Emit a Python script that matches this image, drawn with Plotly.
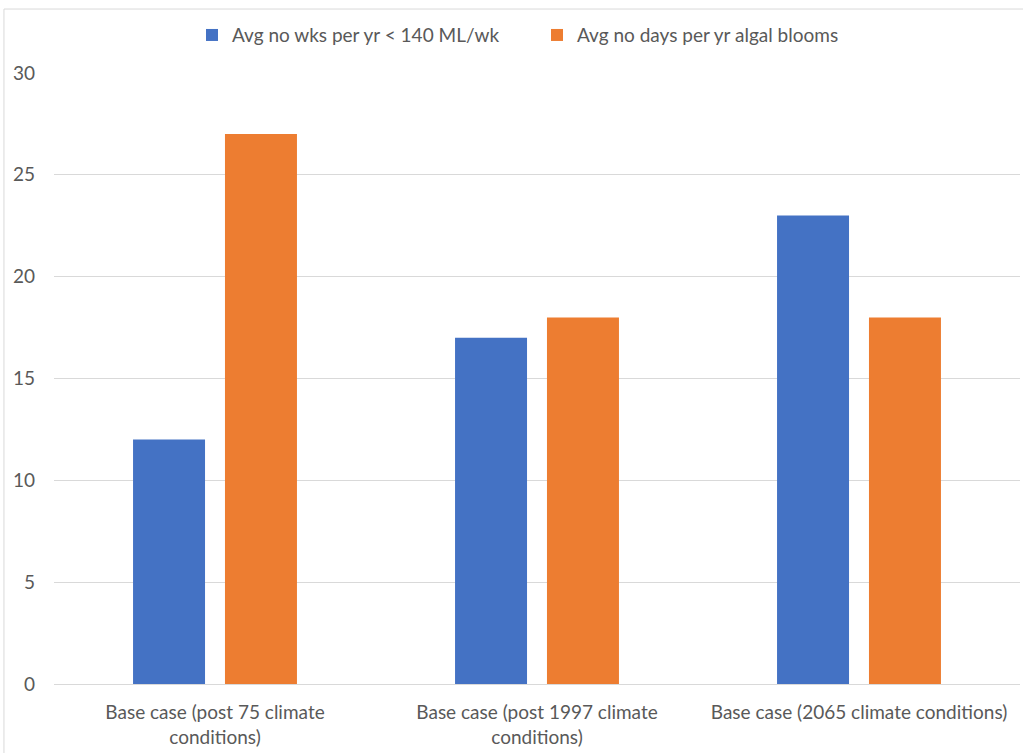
import plotly.graph_objects as go

categories = ["Base case (post 75 climate<br>conditions)",
              "Base case (post 1997 climate<br>conditions)",
              "Base case (2065 climate conditions)"]
series_names = ["Avg no wks per yr < 140 ML/wk", "Avg no days per yr algal blooms"]
weeks_low_flow = [12, 17, 23]
days_algal = [27, 18, 18]
y_ticks = [0, 5, 10, 15, 20, 25, 30]

colors = ["#4472C4", "#ED7D31"]
font_family = "Lato, 'Open Sans', sans-serif"
text_color = "#595959"

fig = go.Figure()
fig.add_trace(go.Bar(x=categories, y=weeks_low_flow, name=series_names[0],
                     marker=dict(color=colors[0], line=dict(width=0))))
fig.add_trace(go.Bar(x=categories, y=days_algal, name=series_names[1],
                     marker=dict(color=colors[1], line=dict(width=0))))

fig.update_layout(
    width=1023, height=753,
    margin=dict(l=54, r=3, t=73, b=69),
    paper_bgcolor="white", plot_bgcolor="white",
    barmode="group", bargap=0.429, bargroupgap=0.217,
    font=dict(family=font_family, size=19, color=text_color),
    showlegend=True,
    legend=dict(orientation="h", x=0.5, xanchor="center", y=1.062, yanchor="middle",
                font=dict(size=19, color=text_color), itemwidth=30,
                entrywidth=300, entrywidthmode="pixels",
                traceorder="normal", bgcolor="rgba(0,0,0,0)"),
    xaxis=dict(showgrid=False, showline=False, zeroline=False, ticks="",
               ticklabelstandoff=15,
               tickfont=dict(size=19, color=text_color), fixedrange=True),
    yaxis=dict(range=[0, 30], tickvals=y_ticks, showgrid=True, gridcolor="#d9d9d9",
               gridwidth=1, zeroline=True, zerolinecolor="#d9d9d9", zerolinewidth=1,
               showline=False, ticks="", ticklabelstandoff=18,
               tickfont=dict(size=19, color=text_color)),
    shapes=[dict(type="rect", xref="paper", yref="paper",
                 x0=-0.0518, x1=1.1, y0=-0.3, y1=1.1047,
                 line=dict(color="#d9d9d9", width=1), fillcolor="rgba(0,0,0,0)",
                 layer="below")],
)

fig.write_html("out.html", config={"displayModeBar": False},
               post_script="document.body.style.margin='0';document.body.style.overflow='hidden';")
